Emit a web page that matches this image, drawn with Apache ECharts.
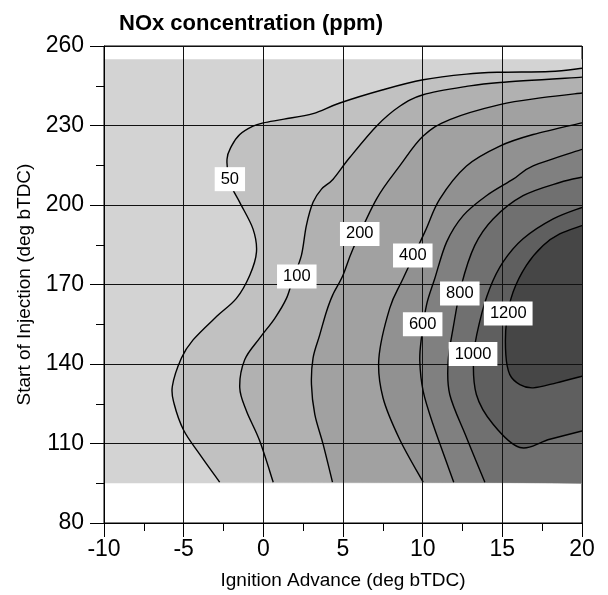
<!DOCTYPE html>
<html>
<head>
<meta charset="utf-8">
<script src="https://cdn.jsdelivr.net/npm/echarts@6/dist/echarts.min.js"></script>
<style>
  html, body { margin: 0; padding: 0; background: #fff; }
  #main { width: 608px; height: 595px; }
</style>
</head>
<body>
<div id="main"></div>
<script>
// contour levels and fill greys (lowest first)
var levels = [50, 100, 200, 400, 600, 800, 1000, 1200];
var fills = ['#d3d3d3', '#c1c1c1', '#b1b1b1', '#a1a1a1', '#919191', '#808080', '#707070', '#5f5f5f', '#464646'];

// extent of the measured map
var mapX = [-10, 20];
var mapY = [95, 255];

// contour lines [advance, injection]
var c50 = [[-2.74, 95.4], [-4.0, 106], [-5.0, 115], [-5.6, 125], [-5.71, 131.6], [-5.14, 142.25], [-4.41, 149.1],
  [-2.94, 157.9], [-1.69, 164.75], [-0.85, 173.5], [-0.43, 182.3], [-0.65, 191], [-1.48, 201], [-2.1, 208.5],
  [-2.28, 217.25], [-2.0, 222.2], [-1.48, 226.6], [-0.65, 229.75], [0, 231], [1.3, 232.4], [3.12, 234.5],
  [4.8, 238.5], [7.51, 243.5], [10.03, 247.25], [12.75, 249.4], [14.84, 250.1], [17.98, 250.4], [20, 251.6]];
var c100 = [[0.62, 95.4], [-0.23, 111], [-1.06, 122.25], [-1.48, 131], [-1.17, 141.6], [-0.23, 149.75],
  [0.72, 157.25], [1.45, 164.75], [1.86, 172.25], [2.39, 181], [2.7, 192.25], [3.12, 201], [3.65, 206],
  [4.38, 209.75], [5.42, 217.9], [7.1, 229.75], [8.56, 237.25], [10.03, 241.6], [12.75, 244.75],
  [14.84, 246.25], [20, 248.25]];
var c200 = [[4.34, 95.4], [3.75, 109.75], [3.23, 121], [3.02, 132.25], [3.12, 142.25], [3.54, 151],
  [3.96, 159.75], [4.35, 166], [5.0, 173.5], [5.63, 183.5], [7.1, 202.25], [8.56, 214.75], [10.03, 226],
  [11.7, 232.25], [14.84, 237.9], [17.5, 240.5], [20, 242.25]];
var c400 = [[10.03, 95.4], [8.56, 111.5], [7.51, 127.25], [7.25, 142], [7.93, 161], [8.77, 172.25],
  [10.13, 189.75], [11.07, 202.25], [12.75, 214.75], [14.84, 222.25], [16.93, 226.6], [20, 231]];
var c600 = [[11.95, 95.4], [10.65, 117.25], [10.03, 129.75], [9.82, 141], [9.92, 149.75], [10.24, 162.25],
  [10.76, 172.25], [11.5, 186], [12.54, 196], [14.0, 203.5], [15.68, 209.75], [16.93, 214.75], [20, 221]];
var c800 = [[13.9, 95.4], [12.75, 112.25], [11.7, 128.5], [11.6, 141], [11.91, 153.5], [12.43, 169.75],
  [13.27, 184.75], [14.42, 194.75], [16.3, 203.5], [18.6, 208.5], [20, 210.5]];
var c1000 = [[20, 199.1], [18.19, 194.75], [16.3, 187.25], [15.05, 178.5], [14.21, 168.5], [13.58, 156],
  [13.2, 143], [13.37, 128.5], [14.42, 117.25], [16.1, 108.5], [17.98, 111.6], [20, 114.75]];
var c1200 = [[20, 192.25], [18.6, 189.1], [17.56, 184.75], [16.51, 177.25], [15.68, 167.25], [15.26, 156],
  [15.22, 143.5], [15.47, 136], [16.1, 132.25], [16.93, 131], [18.4, 132.9], [20, 135.4]];
var contours = [c50, c100, c200, c400, c600, c800, c1000, c1200];
// open contours are closed through the bottom-right corner
var closeCorner = [true, true, true, true, true, true, false, false];

// contour labels
var labelX = [-2.1, 2.1, 6.05, 9.38, 12.33, 10.0, 15.37, 13.16];
var labelY = [209.75, 173, 189.1, 180.9, 166.6, 155, 159.1, 143.75];
var labelText = ['50', '100', '200', '400', '800', '600', '1200', '1000'];

var font = 'Liberation Sans, Arial, sans-serif';

// catmull-rom through the given pixel points
function curvePath(pts) {
    var d = 'M' + pts[0][0] + ',' + pts[0][1];
    for (var i = 0; i < pts.length - 1; i++) {
        var p0 = pts[i - 1] || pts[i], p1 = pts[i], p2 = pts[i + 1], p3 = pts[i + 2] || pts[i + 1];
        var c1x = p1[0] + (p2[0] - p0[0]) / 6, c1y = p1[1] + (p2[1] - p0[1]) / 6;
        var c2x = p2[0] - (p3[0] - p1[0]) / 6, c2y = p2[1] - (p3[1] - p1[1]) / 6;
        d += ' C' + c1x + ',' + c1y + ' ' + c2x + ',' + c2y + ' ' + p2[0] + ',' + p2[1];
    }
    return d;
}

var myChart = echarts.init(document.getElementById('main'));

var option = {
    animation: false,
    title: {
        text: 'NOx concentration (ppm)',
        left: 114,
        top: 8,
        textStyle: { fontFamily: font, fontSize: 22, fontWeight: 'bold', color: '#000' }
    },
    grid: {
        left: 104,
        right: 26,
        top: 46,
        bottom: 69,
        show: true,
        borderColor: '#000',
        borderWidth: 1
    },
    xAxis: {
        type: 'value',
        min: -10,
        max: 20,
        interval: 5,
        z: 3,
        name: 'Ignition Advance (deg bTDC)',
        nameLocation: 'middle',
        nameGap: 48,
        nameTextStyle: { fontFamily: font, fontSize: 19, color: '#000' },
        axisLine: { onZero: false, lineStyle: { color: '#000', width: 1 } },
        axisTick: { length: 14, lineStyle: { color: '#000' } },
        minorTick: { show: true, splitNumber: 2, length: 8, lineStyle: { color: '#000' } },
        splitLine: { show: true, lineStyle: { color: '#111', width: 1 } },
        axisLabel: { fontFamily: font, fontSize: 23, color: '#000', margin: 15 }
    },
    yAxis: {
        type: 'value',
        min: 80,
        max: 260,
        interval: 30,
        z: 3,
        name: 'Start of Injection (deg bTDC)',
        nameLocation: 'middle',
        nameGap: 67,
        nameTextStyle: { fontFamily: font, fontSize: 19, color: '#000' },
        axisLine: { onZero: false, lineStyle: { color: '#000', width: 1 } },
        axisTick: { length: 14, lineStyle: { color: '#000' } },
        minorTick: { show: true, splitNumber: 2, length: 8, lineStyle: { color: '#000' } },
        splitLine: { show: true, lineStyle: { color: '#111', width: 1 } },
        axisLabel: { fontFamily: font, fontSize: 23, color: '#000', margin: 20 }
    },
    series: [{
        // filled bands
        type: 'custom',
        z: 2,
        silent: true,
        clip: true,
        data: fills.map(function (c, i) { return [i]; }),
        renderItem: function (params, api) {
            var i = api.value(0);
            if (i === 0) {
                var a = api.coord([mapX[0], mapY[1]]);
                var b = api.coord([mapX[1], mapY[0]]);
                return {
                    type: 'rect',
                    shape: { x: a[0], y: a[1], width: b[0] - a[0], height: b[1] - a[1] },
                    style: { fill: fills[0] }
                };
            }
            var pts = contours[i - 1].map(function (p) { return api.coord(p); });
            var d = curvePath(pts);
            if (closeCorner[i - 1]) {
                var c = api.coord([mapX[1], mapY[0]]);
                d += ' L' + c[0] + ',' + c[1];
            }
            d += ' Z';
            return { type: 'path', shape: { pathData: d }, style: { fill: fills[i] } };
        }
    }, {
        // contour lines
        type: 'custom',
        z: 4,
        silent: true,
        clip: true,
        data: levels.map(function (v, i) { return [i]; }),
        renderItem: function (params, api) {
            var i = api.value(0);
            var pts = contours[i].map(function (p) { return api.coord(p); });
            return {
                type: 'path',
                shape: { pathData: curvePath(pts) },
                style: { fill: 'none', stroke: '#000', lineWidth: 1.4 }
            };
        }
    }, {
        // contour level labels
        type: 'scatter',
        z: 5,
        silent: true,
        symbolSize: 0,
        itemStyle: { opacity: 1 },
        emphasis: { disabled: true },
        data: labelText.map(function (t, i) { return [labelX[i], labelY[i], t]; }),
        label: {
            show: true,
            position: 'inside',
            formatter: function (p) { return p.value[2]; },
            backgroundColor: '#fff',
            padding: [4, 6, 3, 6],
            fontFamily: font,
            fontSize: 16.5,
            color: '#000'
        }
    }]
};
myChart.setOption(option);
</script>
</body>
</html>
